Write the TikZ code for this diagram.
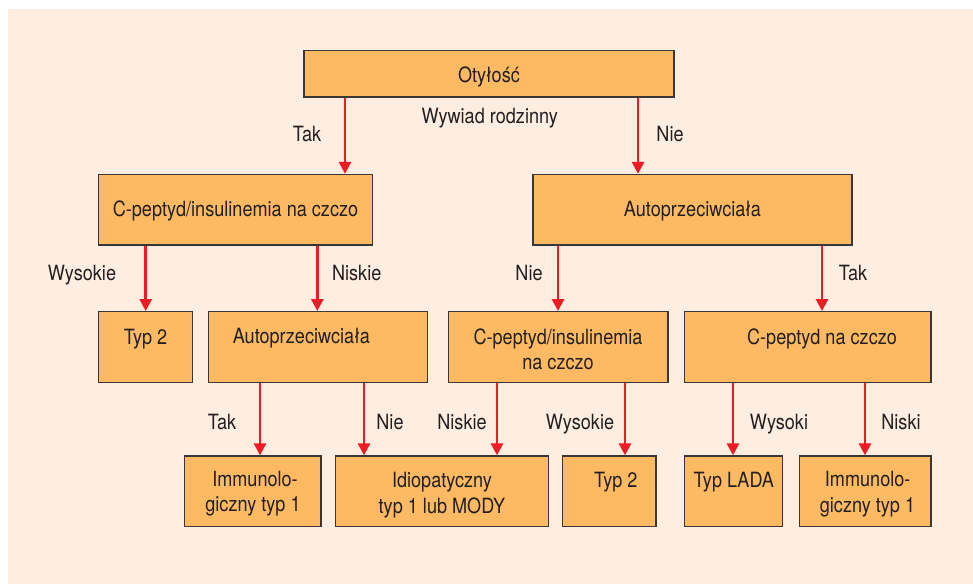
\documentclass[tikz,border=0pt]{standalone}
\usepackage{fontspec}
\setmainfont{TeX Gyre Heros}[FakeStretch=0.862]
\usetikzlibrary{arrows.meta,calc}
\definecolor{peach}{HTML}{FEEEE1}
\definecolor{boxfill}{HTML}{FDBA63}
\definecolor{boxline}{HTML}{3A3636}
\definecolor{arrred}{HTML}{ED1C24}
\definecolor{ink}{HTML}{231F20}
\begin{document}
\begin{tikzpicture}[x=1pt,y=-1pt,
  box/.style={draw=boxline,fill=boxfill,line width=1.3pt,inner sep=0pt},
  txt/.style={inner sep=0pt,anchor=base,text=ink,font=\fontsize{21}{25}\selectfont},
  arr/.style={draw=arrred,line width=2.6pt,-{Triangle[width=12pt,length=12pt]}}]
\useasboundingbox (0,0) rectangle (973,584);
\fill[white] (0,0) rectangle (973,584);
\fill[peach] (8,9) rectangle (973,584);
% boxes
\newcommand{\bx}[5]{\node[box,minimum width={#4-#2},minimum height={#5-#3}] (#1) at ({(#2+#4)/2},{(#3+#5)/2}) {};}
\bx{oty}{304}{50.5}{674}{97}
\bx{cpl}{98.5}{174.5}{372.5}{245}
\bx{autr}{533}{174.5}{852}{245}
\bx{typl}{98.5}{311.7}{192.5}{382.3}
\bx{autl}{208.3}{311.7}{427.7}{382.3}
\bx{cpm}{448.3}{311.7}{668}{382.3}
\bx{cpr}{684.5}{311.7}{931}{382.3}
\bx{iml}{184.3}{456}{321}{526.7}
\bx{idio}{335.7}{456}{548.3}{526.7}
\bx{typm}{562.7}{456}{656}{526.7}
\bx{lada}{684.3}{456}{782.3}{526.7}
\bx{imr}{799.7}{456}{931}{526.7}
% box texts
\node[txt] (toty) at (489,82) {Otyłość};
\node[txt] (tcpl) at (235.5,216) {C-peptyd/insulinemia na czczo};
\node[txt] (tautr) at (692.5,216) {Autoprzeciwciała};
\node[txt] (ttypl) at (145.5,344) {Typ 2};
\node[txt] (tautl) at (301.3,343.5) {Autoprzeciwciała};
\node[txt] (tcpma) at (558,344) {C-peptyd/insulinemia};
\node[txt] (tcpmb) at (558,369) {na czczo};
\node[txt] (tcpr) at (822,344) {C-peptyd na czczo};
\node[txt] (timla) at (255,486) {Immunolo-};
\node[txt] (timlb) at (253,511.7) {giczny typ 1};
\node[txt] (tidioa) at (442,487) {Idiopatyczny};
\node[txt] (tidiob) at (442,513) {typ 1 lub MODY};
\node[txt] (ttypm) at (615.8,487) {Typ 2};
\node[txt] (tlada) at (733.8,487) {Typ LADA};
\node[txt] (timra) at (867.7,486) {Immunolo-};
\node[txt] (timrb) at (867.5,512) {giczny typ 1};
% arrow x positions
\coordinate (x1) at (345,0);
\coordinate (x2) at (638,0);
\coordinate (x3) at (145.7,0);
\coordinate (x4) at (317.3,0);
\coordinate (x5) at (558,0);
\coordinate (x6) at (822,0);
\coordinate (x7) at (260,0);
\coordinate (x8) at (364,0);
\coordinate (x9) at (497,0);
\coordinate (x10) at (625,0);
\coordinate (x11) at (733,0);
\coordinate (x12) at (865,0);
\draw[arr] (oty.south -| x1) -- (cpl.north -| x1);
\draw[arr] (oty.south -| x2) -- (autr.north -| x2);
\draw[arr] (cpl.south -| x3) -- (typl.north -| x3);
\draw[arr] (cpl.south -| x4) -- (autl.north -| x4);
\draw[arr] (autr.south -| x5) -- (cpm.north -| x5);
\draw[arr] (autr.south -| x6) -- (cpr.north -| x6);
\draw[arr] (autl.south -| x7) -- (iml.north -| x7);
\draw[arr] (autl.south -| x8) -- (idio.north -| x8);
\draw[arr] (cpm.south -| x9) -- (idio.north -| x9);
\draw[arr] (cpm.south -| x10) -- (typm.north -| x10);
\draw[arr] (cpr.south -| x11) -- (lada.north -| x11);
\draw[arr] (cpr.south -| x12) -- (imr.north -| x12);
% labels
\node[txt] (l1) at (307,141) {Tak};
\node[txt] (l2) at (489.7,123) {Wywiad rodzinny};
\node[txt] (l3) at (670,141) {Nie};
\node[txt] (l4) at (82,280) {Wysokie};
\node[txt] (l5) at (356.7,280) {Niskie};
\node[txt] (l6) at (529,280) {Nie};
\node[txt] (l7) at (853,280) {Tak};
\node[txt] (l8) at (222,429.3) {Tak};
\node[txt] (l9) at (390,429.3) {Nie};
\node[txt] (l10) at (462,429.3) {Niskie};
\node[txt] (l11) at (580,429.3) {Wysokie};
\node[txt] (l12) at (779,429.3) {Wysoki};
\node[txt] (l13) at (901,429.3) {Niski};
\end{tikzpicture}
\end{document}
